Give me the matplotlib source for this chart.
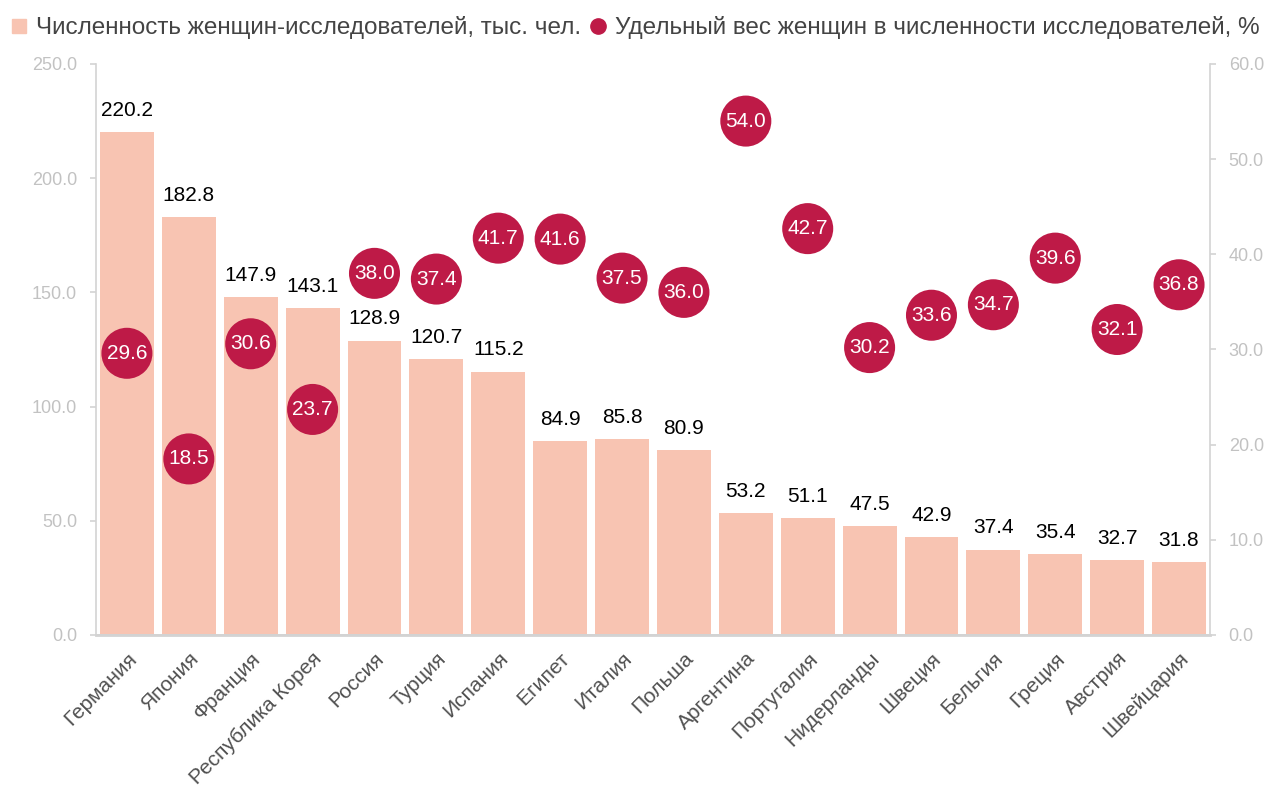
import matplotlib.pyplot as plt
from matplotlib.lines import Line2D

plt.rcParams['font.family'] = ['Liberation Sans', 'DejaVu Sans']

countries = ['Германия', 'Япония', 'Франция', 'Республика Корея', 'Россия', 'Турция',
             'Испания', 'Египет', 'Италия', 'Польша', 'Аргентина', 'Португалия',
             'Нидерланды', 'Швеция', 'Бельгия', 'Греция', 'Австрия', 'Швейцария']
women = [220.2, 182.8, 147.9, 143.1, 128.9, 120.7, 115.2, 84.9, 85.8, 80.9,
         53.2, 51.1, 47.5, 42.9, 37.4, 35.4, 32.7, 31.8]
share = [29.6, 18.5, 30.6, 23.7, 38.0, 37.4, 41.7, 41.6, 37.5, 36.0,
         54.0, 42.7, 30.2, 33.6, 34.7, 39.6, 32.1, 36.8]

bar_color = '#f8c4b2'
dot_color = '#be1a47'
axis_gray = '#d3d3d3'
tick_gray = '#c2c2c2'

fig = plt.figure(figsize=(12.73, 7.89), dpi=100)
ax = fig.add_axes([0.0754, 0.1952, 0.8751, 0.7237])
ax2 = ax.twinx()

x = list(range(len(countries)))
ax.bar(x, women, width=0.87, color=bar_color, zorder=1)
for xi, v in zip(x, women):
    ax.annotate(f'{v:.1f}', (xi, v), xytext=(0, 9), textcoords='offset points',
                ha='center', va='bottom', fontsize=15, color='black')

ax2.scatter(x, share, s=1350, color=dot_color, edgecolors='none', zorder=3)
for xi, v in zip(x, share):
    ax2.text(xi, v, f'{v:.1f}', ha='center', va='center', fontsize=15, color='white', zorder=4)

ax.set_xlim(-0.5, len(countries) - 0.5)
ax.set_ylim(0, 250)
ax2.set_ylim(0, 60)
ax.set_yticks([0, 50, 100, 150, 200, 250])
ax.set_yticklabels([f'{t:.1f}' for t in [0, 50, 100, 150, 200, 250]])
ax2.set_yticks([0, 10, 20, 30, 40, 50, 60])
ax2.set_yticklabels([f'{t:.1f}' for t in [0, 10, 20, 30, 40, 50, 60]])

ax.set_xticks(x)
ax.set_xticklabels(countries, rotation=45, ha='right', rotation_mode='anchor',
                   fontsize=15, color='#505050')
ax.tick_params(axis='x', length=0, pad=10)

for a in (ax, ax2):
    a.spines['top'].set_visible(False)
    for s in ('left', 'right', 'bottom'):
        a.spines[s].set_color(axis_gray)
        a.spines[s].set_linewidth(1.2)
    a.tick_params(axis='y', colors=axis_gray, labelcolor=tick_gray, labelsize=13,
                  length=4.5, width=1.2, pad=9)
ax.spines['right'].set_visible(False)
ax2.spines['left'].set_visible(False)
ax.spines['bottom'].set_linewidth(2)

handles = [
    Line2D([], [], marker='s', linestyle='none', color=bar_color, markersize=10),
    Line2D([], [], marker='o', linestyle='none', color=dot_color, markersize=11),
]
labels = ['Численность женщин-исследователей, тыс. чел.',
          'Удельный вес женщин в численности исследователей, %']
fig.legend(handles, labels, loc='upper left', bbox_to_anchor=(-0.014, 1.007), ncol=2,
           frameon=False, fontsize=17.5, handletextpad=0.1, columnspacing=0.1,
           handlelength=1.2, labelcolor='#444444')

fig.savefig('out.png', dpi=100)
